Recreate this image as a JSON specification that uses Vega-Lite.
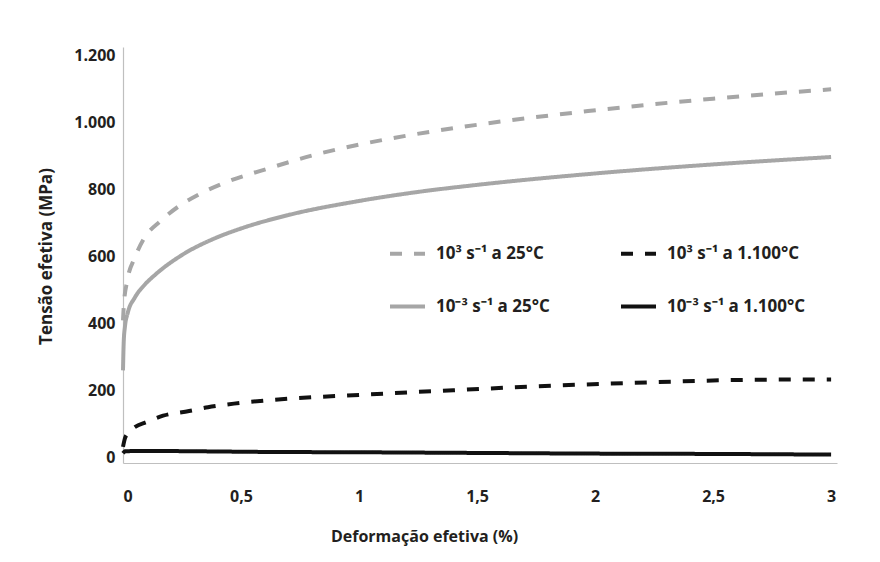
{
  "$schema": "https://vega.github.io/schema/vega-lite/v6.json",
  "autosize": "none",
  "padding": {"left": 123, "top": 47, "right": 43, "bottom": 99},
  "width": 714,
  "height": 416,
  "background": "white",
  "config": {
    "view": {"stroke": null},
    "font": "Open Sans",
    "axis": {
      "grid": false,
      "ticks": false,
      "domainColor": "#bfbfbf",
      "domainWidth": 1.2,
      "labelFont": "Open Sans",
      "labelFontWeight": "bold",
      "labelFontSize": 16,
      "labelColor": "#231f20",
      "titleFont": "Open Sans",
      "titleFontWeight": "bold",
      "titleColor": "#231f20"
    }
  },
  "data": {
    "values": [
      {"serie": "10³  s⁻¹  a  25°C", "d": 0, "t": 410},
      {"serie": "10³  s⁻¹  a  25°C", "d": 0.004, "t": 460},
      {"serie": "10³  s⁻¹  a  25°C", "d": 0.017, "t": 525},
      {"serie": "10³  s⁻¹  a  25°C", "d": 0.05, "t": 597},
      {"serie": "10³  s⁻¹  a  25°C", "d": 0.09, "t": 655},
      {"serie": "10³  s⁻¹  a  25°C", "d": 0.16, "t": 707},
      {"serie": "10³  s⁻¹  a  25°C", "d": 0.24, "t": 752},
      {"serie": "10³  s⁻¹  a  25°C", "d": 0.32, "t": 785},
      {"serie": "10³  s⁻¹  a  25°C", "d": 0.43, "t": 820},
      {"serie": "10³  s⁻¹  a  25°C", "d": 0.63, "t": 866},
      {"serie": "10³  s⁻¹  a  25°C", "d": 0.82, "t": 905},
      {"serie": "10³  s⁻¹  a  25°C", "d": 1.0, "t": 934},
      {"serie": "10³  s⁻¹  a  25°C", "d": 1.23, "t": 964},
      {"serie": "10³  s⁻¹  a  25°C", "d": 1.54, "t": 997},
      {"serie": "10³  s⁻¹  a  25°C", "d": 1.97, "t": 1034},
      {"serie": "10³  s⁻¹  a  25°C", "d": 2.5, "t": 1071},
      {"serie": "10³  s⁻¹  a  25°C", "d": 3.0, "t": 1099},

      {"serie": "10³ s⁻¹ a 1.100°C", "d": 0, "t": 33},
      {"serie": "10³ s⁻¹ a 1.100°C", "d": 0.008, "t": 58},
      {"serie": "10³ s⁻¹ a 1.100°C", "d": 0.02, "t": 74},
      {"serie": "10³ s⁻¹ a 1.100°C", "d": 0.05, "t": 92},
      {"serie": "10³ s⁻¹ a 1.100°C", "d": 0.1, "t": 107},
      {"serie": "10³ s⁻¹ a 1.100°C", "d": 0.17, "t": 126},
      {"serie": "10³ s⁻¹ a 1.100°C", "d": 0.28, "t": 140},
      {"serie": "10³ s⁻¹ a 1.100°C", "d": 0.36, "t": 151},
      {"serie": "10³ s⁻¹ a 1.100°C", "d": 0.47, "t": 162},
      {"serie": "10³ s⁻¹ a 1.100°C", "d": 0.67, "t": 175},
      {"serie": "10³ s⁻¹ a 1.100°C", "d": 1.0, "t": 188},
      {"serie": "10³ s⁻¹ a 1.100°C", "d": 1.4, "t": 202},
      {"serie": "10³ s⁻¹ a 1.100°C", "d": 1.84, "t": 216},
      {"serie": "10³ s⁻¹ a 1.100°C", "d": 2.26, "t": 226},
      {"serie": "10³ s⁻¹ a 1.100°C", "d": 2.66, "t": 233},
      {"serie": "10³ s⁻¹ a 1.100°C", "d": 3.0, "t": 234},

      {"serie": "10⁻³  s⁻¹  a  25°C", "d": 0, "t": 261},
      {"serie": "10⁻³  s⁻¹  a  25°C", "d": 0.003, "t": 345},
      {"serie": "10⁻³  s⁻¹  a  25°C", "d": 0.008, "t": 390},
      {"serie": "10⁻³  s⁻¹  a  25°C", "d": 0.02, "t": 432},
      {"serie": "10⁻³  s⁻¹  a  25°C", "d": 0.05, "t": 478},
      {"serie": "10⁻³  s⁻¹  a  25°C", "d": 0.09, "t": 515},
      {"serie": "10⁻³  s⁻¹  a  25°C", "d": 0.136, "t": 546},
      {"serie": "10⁻³  s⁻¹  a  25°C", "d": 0.25, "t": 605},
      {"serie": "10⁻³  s⁻¹  a  25°C", "d": 0.39, "t": 655},
      {"serie": "10⁻³  s⁻¹  a  25°C", "d": 0.5, "t": 684},
      {"serie": "10⁻³  s⁻¹  a  25°C", "d": 0.7, "t": 724},
      {"serie": "10⁻³  s⁻¹  a  25°C", "d": 1.0, "t": 766},
      {"serie": "10⁻³  s⁻¹  a  25°C", "d": 1.25, "t": 793},
      {"serie": "10⁻³  s⁻¹  a  25°C", "d": 1.5, "t": 814},
      {"serie": "10⁻³  s⁻¹  a  25°C", "d": 2.0, "t": 848},
      {"serie": "10⁻³  s⁻¹  a  25°C", "d": 2.5, "t": 875},
      {"serie": "10⁻³  s⁻¹  a  25°C", "d": 3.0, "t": 897},

      {"serie": "10⁻³ s⁻¹ a 1.100°C", "d": 0, "t": 14},
      {"serie": "10⁻³ s⁻¹ a 1.100°C", "d": 0.01, "t": 20},
      {"serie": "10⁻³ s⁻¹ a 1.100°C", "d": 0.1, "t": 21},
      {"serie": "10⁻³ s⁻¹ a 1.100°C", "d": 0.3, "t": 20},
      {"serie": "10⁻³ s⁻¹ a 1.100°C", "d": 0.6, "t": 18},
      {"serie": "10⁻³ s⁻¹ a 1.100°C", "d": 1.0, "t": 17},
      {"serie": "10⁻³ s⁻¹ a 1.100°C", "d": 1.5, "t": 15},
      {"serie": "10⁻³ s⁻¹ a 1.100°C", "d": 2.0, "t": 13},
      {"serie": "10⁻³ s⁻¹ a 1.100°C", "d": 2.5, "t": 12},
      {"serie": "10⁻³ s⁻¹ a 1.100°C", "d": 3.0, "t": 10}
    ]
  },
  "mark": {"type": "line", "interpolate": "monotone", "strokeCap": "butt"},
  "encoding": {
    "x": {
      "field": "d",
      "type": "quantitative",
      "scale": {"domain": [0, 3.025], "nice": false, "zero": false},
      "axis": {
        "values": [0, 0.5, 1, 1.5, 2, 2.5, 3],
        "labelExpr": "replace(toString(datum.value), '.', ',')",
        "labelPadding": 25,
        "title": "Deformação efetiva (%)",
        "titleFontSize": 16,
        "titlePadding": 24,
        "titleX": 301,
        "titleAlign": "center"
      }
    },
    "y": {
      "field": "t",
      "type": "quantitative",
      "scale": {"domain": [-15, 1225], "nice": false, "zero": false},
      "axis": {
        "values": [0, 200, 400, 600, 800, 1000, 1200],
        "labelExpr": "replace(format(datum.value, ','), ',', '.')",
        "labelPadding": 8,
        "title": "Tensão efetiva (MPa)",
        "titleFontSize": 17,
        "titlePadding": 18,
        "titleY": 209,
        "titleAlign": "center"
      }
    },
    "color": {
      "field": "serie",
      "type": "nominal",
      "scale": {
        "domain": ["10³  s⁻¹  a  25°C", "10⁻³  s⁻¹  a  25°C", "10³ s⁻¹ a 1.100°C", "10⁻³ s⁻¹ a 1.100°C"],
        "range": ["#a6a6a6", "#a6a6a6", "#111111", "#111111"]
      },
      "legend": {
        "title": null,
        "orient": "none",
        "legendX": 265,
        "legendY": 187,
        "columns": 2,
        "padding": 0,
        "symbolType": "stroke",
        "symbolSize": 1225,
        "symbolStrokeWidth": 4,
        "labelFont": "Open Sans",
        "labelFontWeight": "bold",
        "labelFontSize": 17,
        "labelColor": "#231f20",
        "labelOffset": 9,
        "labelLimit": 0,
        "columnPadding": 49,
        "rowPadding": 25
      }
    },
    "strokeDash": {
      "field": "serie",
      "type": "nominal",
      "scale": {
        "domain": ["10³  s⁻¹  a  25°C", "10⁻³  s⁻¹  a  25°C", "10³ s⁻¹ a 1.100°C", "10⁻³ s⁻¹ a 1.100°C"],
        "range": [[12, 12], [1, 0], [12, 12], [1, 0]]
      }
    },
    "strokeWidth": {
      "field": "serie",
      "type": "nominal",
      "scale": {
        "domain": ["10³  s⁻¹  a  25°C", "10⁻³  s⁻¹  a  25°C", "10³ s⁻¹ a 1.100°C", "10⁻³ s⁻¹ a 1.100°C"],
        "range": [4, 4, 4, 3.5]
      },
      "legend": null
    }
  }
}
